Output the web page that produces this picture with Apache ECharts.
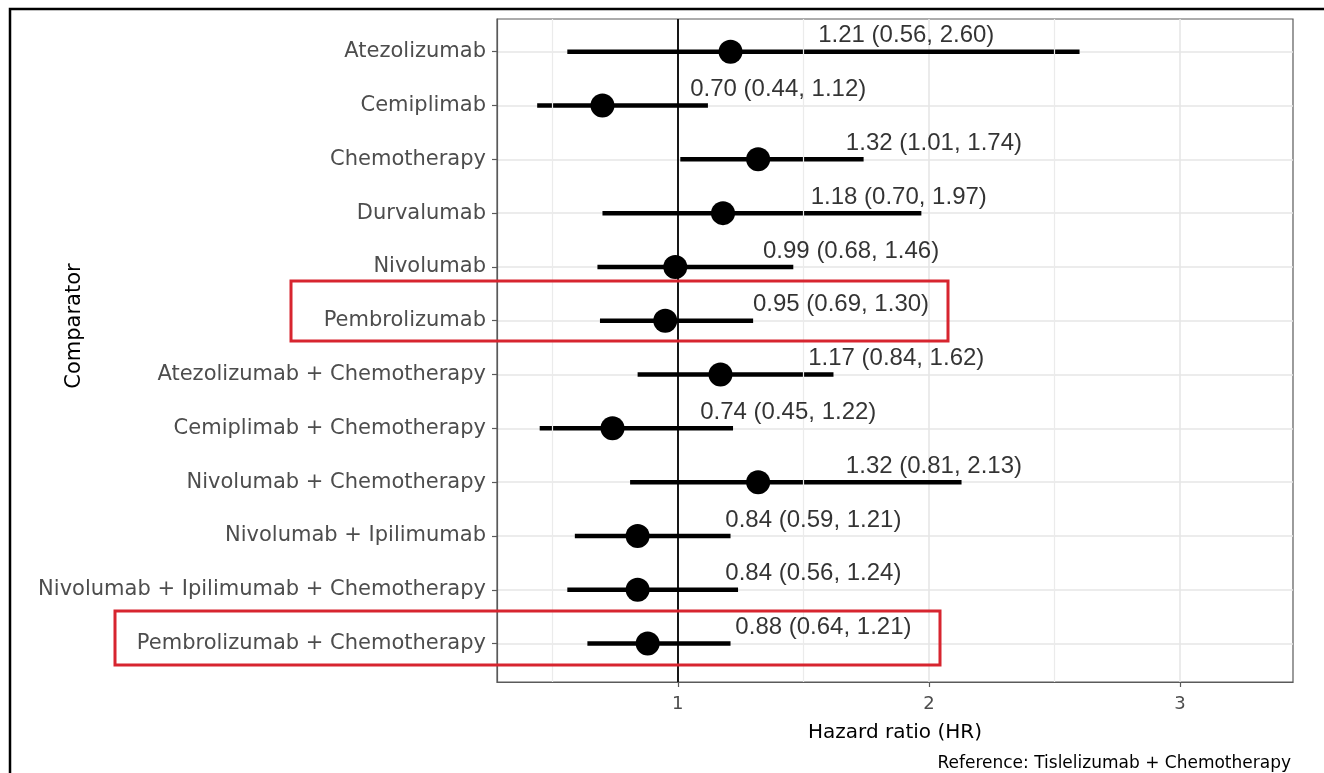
<!DOCTYPE html>
<html><head><meta charset="utf-8">
<script src="https://cdn.jsdelivr.net/npm/echarts@6/dist/echarts.min.js"></script>
<style>html,body{margin:0;padding:0;background:#fff}#c{width:1324px;height:773px}</style>
</head><body><div id="c"></div>
<script>
const comparators = [
  'Atezolizumab', 'Cemiplimab', 'Chemotherapy', 'Durvalumab', 'Nivolumab', 'Pembrolizumab',
  'Atezolizumab + Chemotherapy', 'Cemiplimab + Chemotherapy', 'Nivolumab + Chemotherapy',
  'Nivolumab + Ipilimumab', 'Nivolumab + Ipilimumab + Chemotherapy', 'Pembrolizumab + Chemotherapy'
];
const hr    = [1.21, 0.70, 1.32, 1.18, 0.99, 0.95, 1.17, 0.74, 1.32, 0.84, 0.84, 0.88];
const lower = [0.56, 0.44, 1.01, 0.70, 0.68, 0.69, 0.84, 0.45, 0.81, 0.59, 0.56, 0.64];
const upper = [2.60, 1.12, 1.74, 1.97, 1.46, 1.30, 1.62, 1.22, 2.13, 1.21, 1.24, 1.21];
const xTicks = [1, 2, 3];
const xMinorGrid = [0.5, 1.5, 2.5];
const refValue = 1;
const xTitle = 'Hazard ratio (HR)';
const yTitle = 'Comparator';
const captionText = 'Reference: Tislelizumab + Chemotherapy';

const rows = comparators.map((c, i) => i + 1);
const labelNudge = 0.7;
const labelTexts = comparators.map((c, i) => hr[i].toFixed(2) + ' (' + lower[i].toFixed(2) + ', ' + upper[i].toFixed(2) + ')');

const axisFont = 'DejaVu Sans';
const frameColor = '#5a5a5a';
const gridColor = '#e6e6e6';

const chart = echarts.init(document.getElementById('c'), null, {renderer: 'canvas'});
chart.setOption({
  animation: false,
  grid: {left: 497, top: 19, width: 796, height: 663, show: true, borderColor: frameColor, borderWidth: 1.2, backgroundColor: '#fff'},
  xAxis: {
    type: 'value', min: 0.28, max: 3.45,
    axisLine: {show: true, lineStyle: {color: frameColor, width: 1.2}},
    axisTick: {show: true, length: 5, customValues: xTicks, lineStyle: {color: frameColor, width: 1.2}},
    axisLabel: {customValues: xTicks, margin: 13, color: '#4d4d4d', fontSize: 18, fontFamily: axisFont},
    splitLine: {show: true, lineStyle: {color: gridColor, width: 1.6}},
    name: xTitle, nameLocation: 'middle', nameGap: 41,
    nameTextStyle: {color: '#000', fontSize: 20, fontFamily: axisFont}
  },
  yAxis: {
    type: 'value', inverse: true, min: 0.392, max: 12.714,
    axisLine: {show: true, lineStyle: {color: frameColor, width: 1.2}},
    axisTick: {show: true, length: 5, customValues: rows, lineStyle: {color: frameColor, width: 1.2}},
    axisLabel: {customValues: rows, margin: 11, color: '#4d4d4d', fontSize: 21, fontFamily: axisFont,
      formatter: v => comparators[Math.round(v) - 1] || ''},
    splitLine: {show: true, lineStyle: {color: gridColor, width: 1.6}}
  },
  series: [
    {
      type: 'line', data: [], silent: true, z: 1,
      markLine: {silent: true, symbol: 'none', label: {show: false},
        lineStyle: {color: '#ebebeb', width: 1.2, type: 'solid'},
        data: xMinorGrid.map(v => ({xAxis: v}))}
    },
    {
      type: 'custom', name: 'ci', z: 3,
      data: comparators.map((c, i) => [lower[i], upper[i], i + 1]),
      encode: {x: [0, 1], y: 2},
      renderItem: (params, api) => {
        const y = api.value(2);
        const p1 = api.coord([api.value(0), y]);
        const p2 = api.coord([api.value(1), y]);
        return {type: 'line', shape: {x1: p1[0], y1: p1[1], x2: p2[0], y2: p2[1]},
          style: {stroke: '#000', lineWidth: 4.5}};
      },
      markLine: {silent: true, symbol: 'none', label: {show: false},
        lineStyle: {color: '#000', width: 1.8, type: 'solid'},
        data: [{xAxis: refValue}]}
    },
    {
      type: 'scatter', z: 4, symbolSize: 24,
      itemStyle: {color: '#000', opacity: 1},
      data: comparators.map((c, i) => [hr[i], i + 1])
    },
    {
      type: 'scatter', z: 5, symbolSize: 0, silent: true,
      data: comparators.map((c, i) => [hr[i] + labelNudge, i + 1]),
      label: {show: true, position: 'top', distance: 4,
        formatter: p => labelTexts[p.dataIndex],
        color: '#000', fontSize: 24, fontFamily: 'Liberation Sans', textBorderWidth: 0}
    }
  ],
  graphic: [
    {type: 'rect', shape: {x: 10, y: 9, width: 1400, height: 800}, style: {fill: 'none', stroke: '#000', lineWidth: 2.5}, z: 100},
    {type: 'rect', shape: {x: 291, y: 281, width: 657, height: 60}, style: {fill: 'none', stroke: '#d7252f', lineWidth: 3}, z: 100},
    {type: 'rect', shape: {x: 115, y: 611, width: 825, height: 54}, style: {fill: 'none', stroke: '#d7252f', lineWidth: 3}, z: 100},
    {type: 'text', x: 75, y: 326, rotation: Math.PI / 2, z: 100,
      style: {text: yTitle, font: '21px "DejaVu Sans"', fill: '#000', textAlign: 'center', textVerticalAlign: 'middle'}},
    {type: 'text', x: 1291, y: 764, z: 100,
      style: {text: captionText, font: '17px "DejaVu Sans"', fill: '#000', textAlign: 'right', textVerticalAlign: 'middle'}}
  ]
});
</script>
</body></html>
